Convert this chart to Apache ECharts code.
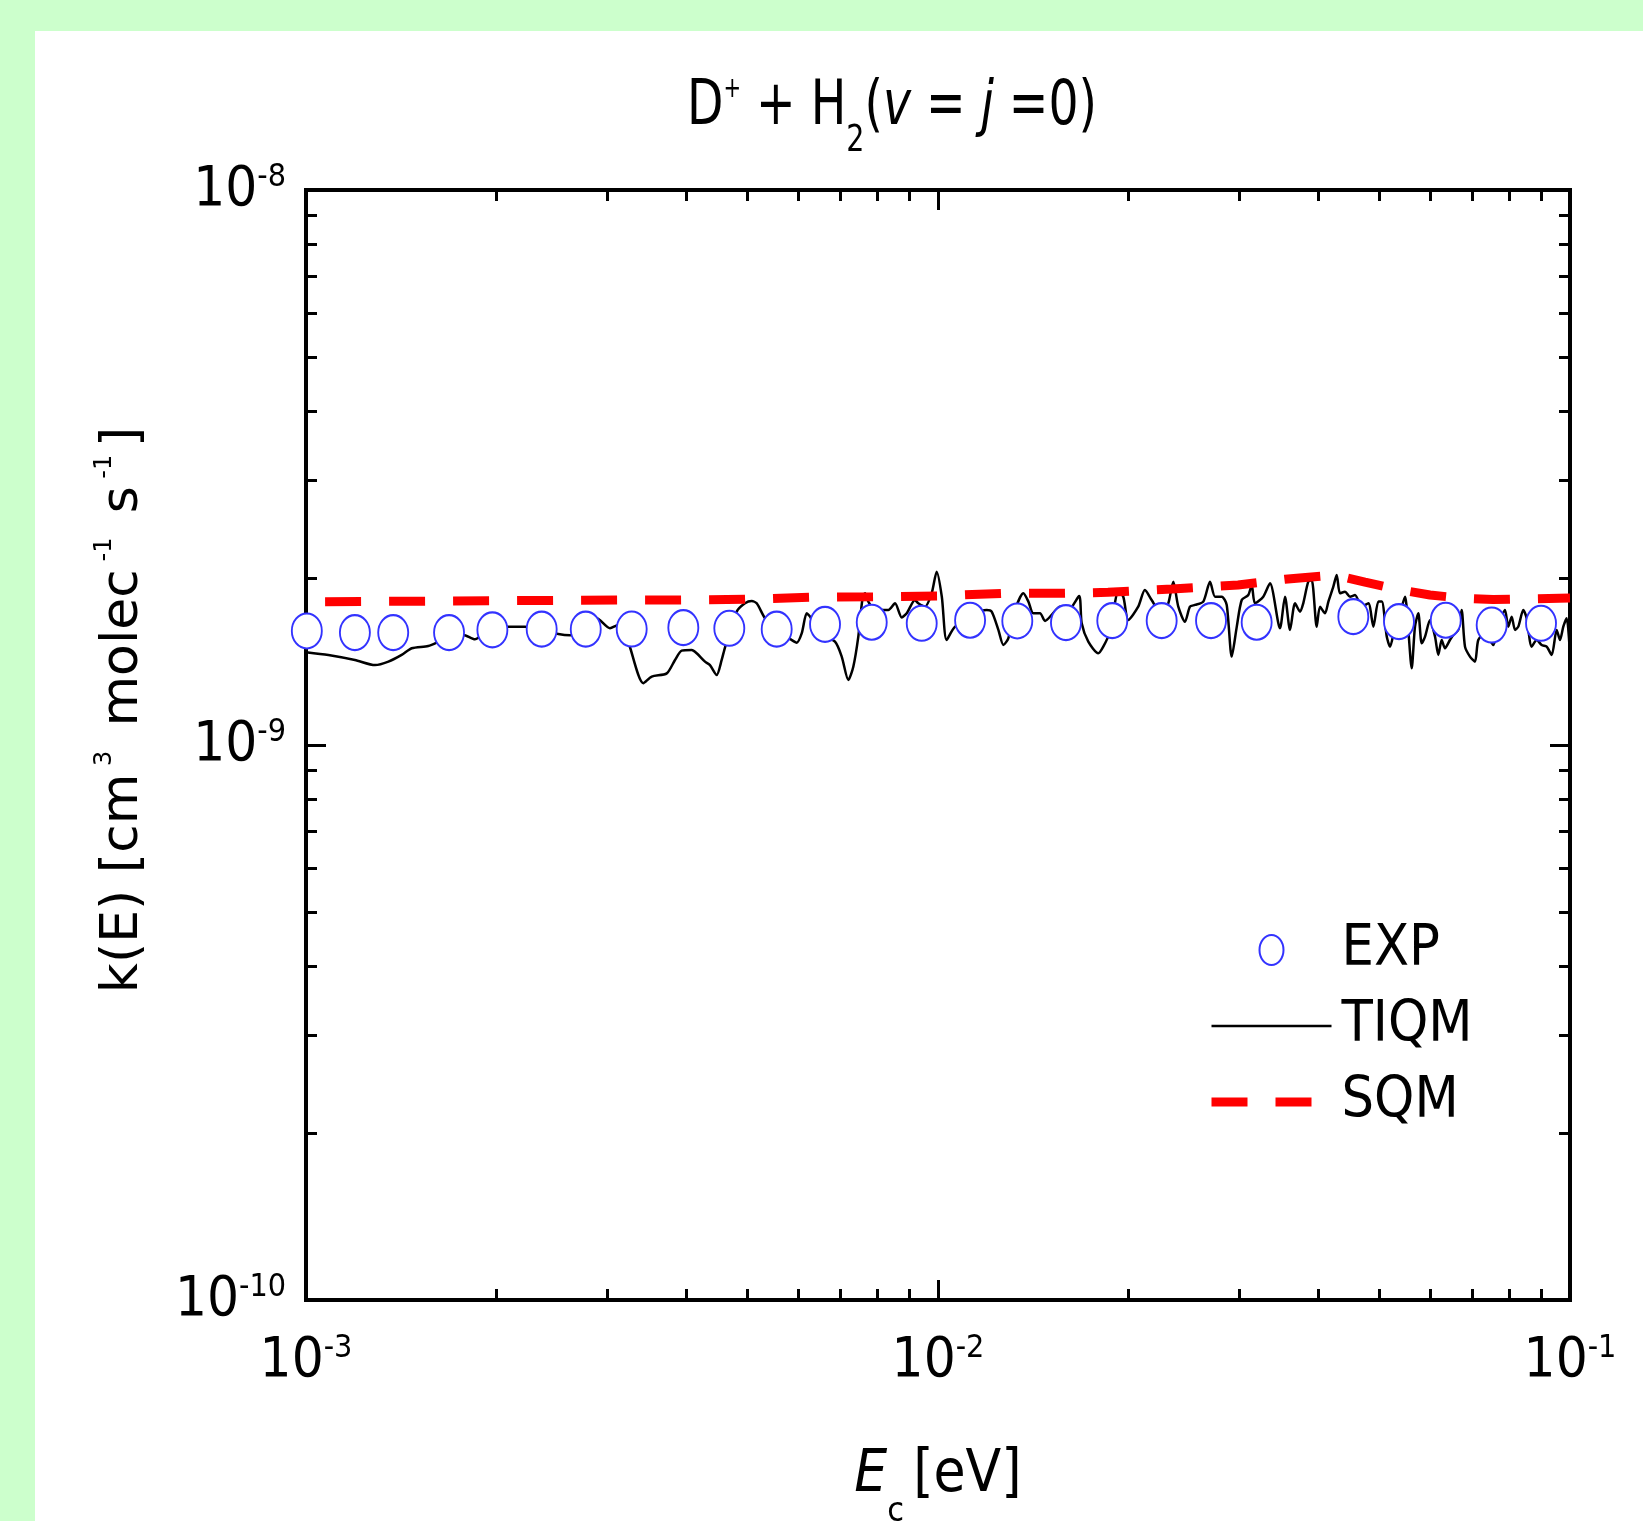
<!DOCTYPE html>
<html>
<head>
<meta charset="utf-8">
<script src="https://cdn.jsdelivr.net/npm/echarts@6/dist/echarts.min.js"></script>
<style>
html,body{margin:0;padding:0;background:#ccffcc;}
#chart{width:1643px;height:1521px;}
</style>
</head>
<body>
<div id="chart"></div>
<script>
// ---------------- data ----------------
const titleText = '{m|D}{sp|+}{m| + H}{sb|2}{m|(}{i|v}{m| = }{i|j}{m| =0)}';
const xMajorTicks = [1e-3, 1e-2, 1e-1];
const xTickLabels = ['-3', '-2', '-1'];
const xMinorTicks = [2e-3, 3e-3, 4e-3, 5e-3, 6e-3, 7e-3, 8e-3, 9e-3, 2e-2, 3e-2, 4e-2, 5e-2, 6e-2, 7e-2, 8e-2, 9e-2];
const yMajorTicks = [1e-10, 1e-9, 1e-8];
const yTickLabels = ['-10', '-9', '-8'];
const yMinorTicks = [2e-10, 3e-10, 4e-10, 5e-10, 6e-10, 7e-10, 8e-10, 9e-10, 2e-9, 3e-9, 4e-9, 5e-9, 6e-9, 7e-9, 8e-9, 9e-9];

const seriesNames = ['EXP', 'TIQM', 'SQM'];

const expE = [1.003e-3, 1.195e-3, 1.374e-3, 1.684e-3, 1.972e-3, 2.360e-3, 2.771e-3, 3.276e-3, 3.954e-3, 4.675e-3, 5.556e-3, 6.626e-3, 7.855e-3, 9.424e-3, 1.124e-2, 1.335e-2, 1.594e-2, 1.887e-2, 2.259e-2, 2.704e-2, 3.193e-2, 4.541e-2, 5.363e-2, 6.359e-2, 7.517e-2, 8.998e-2];
const expK = [1.605e-9, 1.594e-9, 1.594e-9, 1.594e-9, 1.612e-9, 1.617e-9, 1.617e-9, 1.618e-9, 1.627e-9, 1.623e-9, 1.617e-9, 1.650e-9, 1.664e-9, 1.657e-9, 1.678e-9, 1.673e-9, 1.661e-9, 1.675e-9, 1.675e-9, 1.675e-9, 1.664e-9, 1.703e-9, 1.668e-9, 1.678e-9, 1.645e-9, 1.657e-9];

const sqmE = [1.072e-3, 3.140e-3, 3.906e-3, 4.950e-3, 6.274e-3, 7.892e-3, 1.000e-2, 1.263e-2, 1.588e-2, 1.858e-2, 2.346e-2, 2.984e-2, 3.540e-2, 4.249e-2, 4.738e-2, 5.286e-2, 6.005e-2, 6.697e-2, 7.554e-2, 1.000e-1];
const sqmK = [1.812e-9, 1.825e-9, 1.825e-9, 1.830e-9, 1.846e-9, 1.850e-9, 1.856e-9, 1.876e-9, 1.876e-9, 1.884e-9, 1.910e-9, 1.942e-9, 1.989e-9, 2.024e-9, 1.966e-9, 1.910e-9, 1.863e-9, 1.840e-9, 1.829e-9, 1.840e-9];

const tiqmE = [
1.000e-3, 1.085e-3, 1.195e-3, 1.286e-3, 1.350e-3, 1.417e-3, 1.470e-3, 1.561e-3, 1.619e-3, 1.700e-3,
1.774e-3, 1.851e-3, 1.885e-3, 1.967e-3, 2.090e-3, 2.221e-3, 2.360e-3, 2.507e-3, 2.617e-3, 2.764e-3,
2.884e-3, 3.027e-3, 3.120e-3, 3.197e-3, 3.256e-3, 3.418e-3, 3.524e-3, 3.722e-3, 3.836e-3, 3.931e-3,
4.076e-3, 4.151e-3, 4.279e-3, 4.357e-3, 4.465e-3, 4.547e-3, 4.603e-3, 4.803e-3, 4.950e-3, 5.073e-3,
5.166e-3, 5.325e-3, 5.556e-3, 5.868e-3, 5.976e-3, 6.086e-3, 6.198e-3, 6.274e-3, 6.466e-3, 6.871e-3,
7.041e-3, 7.213e-3, 7.345e-3, 7.480e-3, 7.590e-3, 7.665e-3, 7.758e-3, 7.949e-3, 8.345e-3, 8.551e-3,
8.762e-3, 8.923e-3, 9.196e-3, 9.307e-3, 9.537e-3, 9.772e-3, 9.952e-3, 1.014e-2, 1.032e-2, 1.064e-2,
1.194e-2, 1.216e-2, 1.246e-2, 1.269e-2, 1.292e-2, 1.324e-2, 1.365e-2, 1.390e-2, 1.415e-2, 1.450e-2,
1.477e-2, 1.513e-2, 1.560e-2, 1.608e-2, 1.672e-2, 1.688e-2, 1.729e-2, 1.793e-2, 1.826e-2, 1.871e-2,
1.929e-2, 1.964e-2, 2.000e-2, 2.074e-2, 2.125e-2, 2.178e-2, 2.259e-2, 2.314e-2, 2.357e-2, 2.400e-2,
2.459e-2, 2.504e-2, 2.550e-2, 2.629e-2, 2.694e-2, 2.744e-2, 2.812e-2, 2.863e-2, 2.916e-2, 2.970e-2,
3.024e-2, 3.097e-2, 3.136e-2, 3.174e-2, 3.271e-2, 3.352e-2, 3.476e-2, 3.540e-2, 3.606e-2, 3.672e-2,
3.740e-2, 3.784e-2, 3.854e-2, 3.902e-2, 3.974e-2, 4.022e-2, 4.096e-2, 4.147e-2, 4.222e-2, 4.274e-2,
4.326e-2, 4.406e-2, 4.487e-2, 4.569e-2, 4.682e-2, 4.797e-2, 4.885e-2, 4.975e-2, 5.037e-2, 5.129e-2,
5.191e-2, 5.286e-2, 5.383e-2, 5.482e-2, 5.548e-2, 5.617e-2, 5.685e-2, 5.754e-2, 5.826e-2, 5.897e-2,
6.005e-2, 6.115e-2, 6.189e-2, 6.266e-2, 6.341e-2, 6.457e-2, 6.535e-2, 6.656e-2, 6.738e-2, 6.821e-2,
6.946e-2, 7.073e-2, 7.159e-2, 7.335e-2, 7.561e-2, 7.700e-2, 7.890e-2, 7.986e-2, 8.086e-2, 8.185e-2,
8.283e-2, 8.435e-2, 8.540e-2, 8.697e-2, 8.857e-2, 9.020e-2, 9.185e-2, 9.354e-2, 9.526e-2, 9.643e-2,
9.759e-2, 9.881e-2, 1.000e-1];
const tiqmK = [
1.470e-9, 1.453e-9, 1.423e-9, 1.393e-9, 1.413e-9, 1.453e-9, 1.494e-9, 1.508e-9, 1.535e-9, 1.579e-9,
1.579e-9, 1.550e-9, 1.568e-9, 1.612e-9, 1.634e-9, 1.634e-9, 1.612e-9, 1.585e-9, 1.577e-9, 1.600e-9,
1.692e-9, 1.623e-9, 1.645e-9, 1.623e-9, 1.500e-9, 1.292e-9, 1.328e-9, 1.346e-9, 1.423e-9, 1.479e-9,
1.483e-9, 1.463e-9, 1.413e-9, 1.393e-9, 1.337e-9, 1.423e-9, 1.500e-9, 1.739e-9, 1.800e-9, 1.817e-9,
1.800e-9, 1.692e-9, 1.612e-9, 1.546e-9, 1.529e-9, 1.589e-9, 1.727e-9, 1.703e-9, 1.600e-9, 1.535e-9,
1.443e-9, 1.310e-9, 1.384e-9, 1.568e-9, 1.825e-9, 1.876e-9, 1.813e-9, 1.751e-9, 1.751e-9, 1.800e-9,
1.698e-9, 1.727e-9, 1.825e-9, 1.800e-9, 1.775e-9, 1.876e-9, 2.052e-9, 1.850e-9, 1.546e-9, 1.634e-9,
1.751e-9, 1.739e-9, 1.612e-9, 1.514e-9, 1.557e-9, 1.751e-9, 1.876e-9, 1.813e-9, 1.727e-9, 1.727e-9,
1.673e-9, 1.715e-9, 1.775e-9, 1.751e-9, 1.855e-9, 1.657e-9, 1.535e-9, 1.463e-9, 1.504e-9, 1.600e-9,
1.889e-9, 1.850e-9, 1.680e-9, 1.775e-9, 1.902e-9, 1.825e-9, 1.715e-9, 1.800e-9, 1.969e-9, 1.775e-9,
1.668e-9, 1.775e-9, 1.788e-9, 1.813e-9, 1.969e-9, 1.850e-9, 1.850e-9, 1.788e-9, 1.443e-9, 1.634e-9,
1.825e-9, 1.863e-9, 1.942e-9, 1.800e-9, 1.850e-9, 1.956e-9, 1.623e-9, 1.850e-9, 1.612e-9, 1.800e-9,
1.739e-9, 1.800e-9, 1.969e-9, 1.983e-9, 1.634e-9, 1.775e-9, 1.727e-9, 1.813e-9, 1.929e-9, 2.024e-9,
1.876e-9, 1.889e-9, 1.850e-9, 1.863e-9, 1.775e-9, 1.800e-9, 1.634e-9, 1.813e-9, 1.813e-9, 1.568e-9,
1.504e-9, 1.634e-9, 1.727e-9, 1.850e-9, 1.612e-9, 1.375e-9, 1.634e-9, 1.727e-9, 1.525e-9, 1.568e-9,
1.680e-9, 1.568e-9, 1.453e-9, 1.546e-9, 1.494e-9, 1.546e-9, 1.579e-9, 1.612e-9, 1.751e-9, 1.504e-9,
1.443e-9, 1.413e-9, 1.546e-9, 1.589e-9, 1.514e-9, 1.634e-9, 1.751e-9, 1.634e-9, 1.703e-9, 1.612e-9,
1.634e-9, 1.751e-9, 1.692e-9, 1.504e-9, 1.546e-9, 1.514e-9, 1.504e-9, 1.453e-9, 1.612e-9, 1.546e-9,
1.634e-9, 1.692e-9, 1.453e-9];

// ---------------- styling ----------------
const NARROW = "'Liberation Sans Narrow','Arial Narrow','DejaVu Sans Condensed',sans-serif";
const WIDE = "'DejaVu Sans','Liberation Sans',sans-serif";
const ELLIPSE = 'path://M0,50 A40,50 0 1,1 80,50 A40,50 0 1,1 0,50 Z';

function pairs(xs, ys) { return xs.map((x, i) => [x, ys[i]]); }
function expLabel(ticks, labels, value) {
  let best = 0, d = Infinity;
  ticks.forEach((t, i) => {
    const dd = Math.abs(Math.log10(t) - Math.log10(value));
    if (dd < d) { d = dd; best = i; }
  });
  return '{n|10}{s|' + labels[best] + '}';
}
const expRich = {
  n: {fontSize: 56, fontFamily: NARROW, fontWeight: 'normal', color: '#000', lineHeight: 56, verticalAlign: 'bottom', padding: [6, 0, 0, 0]},
  s: {fontSize: 32, fontFamily: NARROW, fontWeight: 'normal', color: '#000', lineHeight: 32, verticalAlign: 'top'}
};
const axisLineStyle = {color: '#000', width: 4, cap: 'square'};
const tickStyle = {color: '#000', width: 3};

function majorAxis(kind, pos, min, max, withLabels, ticks, labels) {
  return {
    type: 'log', logBase: 10, min: min, max: max, position: pos,
    axisLine: {show: true, onZero: false, lineStyle: axisLineStyle},
    axisTick: {show: true, inside: true, length: 20, lineStyle: tickStyle},
    axisLabel: withLabels ? {
      show: true, margin: kind === 'x' ? 33 : 20,
      formatter: v => expLabel(ticks, labels, v), rich: expRich
    } : {show: false},
    splitLine: {show: false}, minorTick: {show: false}, minorSplitLine: {show: false}
  };
}
function minorAxis(pos, min, max, minorVals) {
  return {
    type: 'value', min: min, max: max, position: pos,
    axisLine: {show: false, onZero: false},
    axisTick: {show: true, inside: true, length: 11, lineStyle: tickStyle,
      customValues: minorVals.map(v => Math.log10(v))},
    axisLabel: {show: false},
    splitLine: {show: false}
  };
}

const xMain = majorAxis('x', 'bottom', 1e-3, 1e-1, true, xMajorTicks, xTickLabels);
xMain.name = '{e|E}{c|c}{u|[eV]}';
xMain.nameLocation = 'middle';
xMain.nameGap = 147;
xMain.nameMoveOverlap = false;
xMain.nameTextStyle = {
  color: '#000',
  rich: {
    e: {fontSize: 58, fontFamily: NARROW, fontStyle: 'italic', fontWeight: 'normal', color: '#000', lineHeight: 70, verticalAlign: 'top'},
    c: {fontSize: 34, fontFamily: NARROW, fontWeight: 'normal', color: '#000', lineHeight: 34, verticalAlign: 'top', padding: [48, 9, 0, 0]},
    u: {fontSize: 58, fontFamily: NARROW, fontWeight: 'normal', color: '#000', lineHeight: 70, verticalAlign: 'top'}
  }
};

const yMain = majorAxis('y', 'left', 1e-10, 1e-8, true, yMajorTicks, yTickLabels);
yMain.name = '{m|k(E) [cm}{p| 3 }{m| molec}{p| -1 }{m| s}{p| -1 }{m|]}';
yMain.nameLocation = 'middle';
yMain.nameGap = 157;
yMain.nameMoveOverlap = false;
yMain.nameTextStyle = {
  color: '#000',
  padding: [0, 0, 0, 70],
  rich: {
    m: {fontSize: 52, fontFamily: WIDE, fontWeight: 'normal', color: '#000', lineHeight: 56, verticalAlign: 'bottom'},
    p: {fontSize: 24, fontFamily: WIDE, fontWeight: 'normal', color: '#000', lineHeight: 24, verticalAlign: 'top', padding: [0, 0, 58, 0]}
  }
};

const hiddenMarker = {color: 'rgba(0,0,0,0)', borderWidth: 0, opacity: 0};

const chart = echarts.init(document.getElementById('chart'), null, {renderer: 'canvas'});
chart.setOption({
  animation: false,
  backgroundColor: '#ccffcc',
  textStyle: {fontFamily: NARROW, color: '#000'},
  graphic: [
    {type: 'rect', z: -10, silent: true,
      shape: {x: 35, y: 31, width: 1608, height: 1490}, style: {fill: '#ffffff'}},
    {type: 'text', z: 10, silent: true, x: 892, y: 76, scaleX: 0.835,
      style: {
        text: titleText, align: 'center', verticalAlign: 'top', fill: '#000',
        rich: {
          m: {fontSize: 63, fontFamily: NARROW, fill: '#000', lineHeight: 70, verticalAlign: 'top'},
          i: {fontSize: 63, fontFamily: NARROW, fontStyle: 'italic', fill: '#000', lineHeight: 70, verticalAlign: 'top'},
          sp: {fontSize: 28, fontFamily: NARROW, fill: '#000', lineHeight: 28, verticalAlign: 'top'},
          sb: {fontSize: 38, fontFamily: NARROW, fill: '#000', lineHeight: 38, verticalAlign: 'top', padding: [46, 0, 0, 0]}
        }
      }}
  ],
  grid: {left: 306, top: 190, width: 1264, height: 1110, containLabel: false, outerBoundsMode: 'none'},
  xAxis: [
    xMain,
    minorAxis('bottom', -3, -1, xMinorTicks),
    majorAxis('x', 'top', 1e-3, 1e-1, false),
    minorAxis('top', -3, -1, xMinorTicks)
  ],
  yAxis: [
    yMain,
    minorAxis('left', -10, -8, yMinorTicks),
    majorAxis('y', 'right', 1e-10, 1e-8, false),
    minorAxis('right', -10, -8, yMinorTicks)
  ],
  legend: {
    orient: 'vertical', left: 1207, top: 920, padding: 0,
    itemWidth: 120, itemHeight: 30, itemGap: 16,
    selectedMode: false,
    data: [
      {name: seriesNames[0], icon: ELLIPSE},
      {name: seriesNames[1], itemStyle: hiddenMarker},
      {name: seriesNames[2], itemStyle: hiddenMarker}
    ],
    lineStyle: {width: 'inherit'},
    textStyle: {fontSize: 57, fontFamily: NARROW, color: '#000', lineHeight: 60, padding: [0, 0, 0, 5]}
  },
  series: [
    {
      name: seriesNames[1], type: 'line', data: pairs(tiqmE, tiqmK),
      symbol: 'none', showSymbol: false, smooth: 0.25,
      itemStyle: {color: '#000'},
      lineStyle: {color: '#000', width: 2.5}, z: 3
    },
    {
      name: seriesNames[2], type: 'line', data: pairs(sqmE, sqmK),
      symbol: 'none', showSymbol: false,
      itemStyle: {color: '#ff0000'},
      lineStyle: {color: '#ff0000', width: 9, type: [36, 28]}, z: 4
    },
    {
      name: seriesNames[0], type: 'scatter', data: pairs(expE, expK),
      symbol: ELLIPSE, symbolSize: [30, 35], symbolKeepAspect: false,
      itemStyle: {color: '#ffffff', borderColor: '#3333ff', borderWidth: 2, opacity: 1},
      z: 5
    }
  ]
});
</script>
</body>
</html>
